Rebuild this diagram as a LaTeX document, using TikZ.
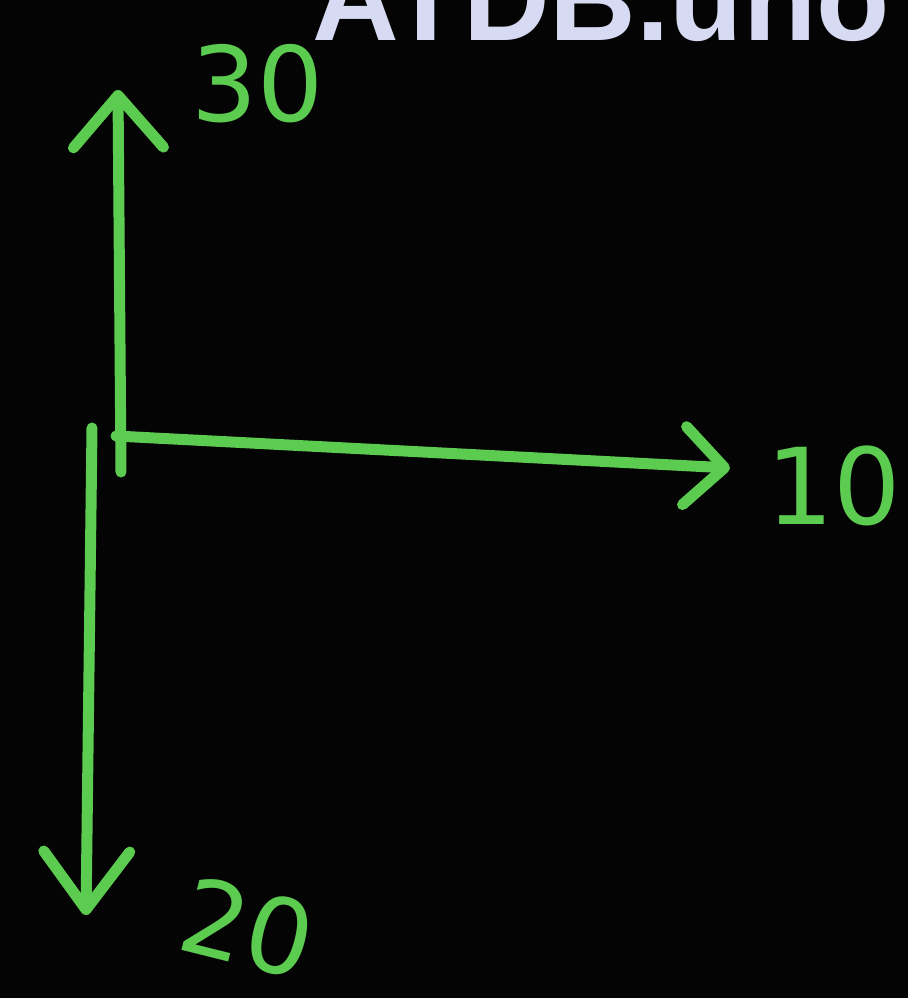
\documentclass[tikz,border=0pt]{standalone}
\usepackage{fontspec}
\usepackage{xcolor}
\newfontfamily\logofont{Liberation Sans}
\newfontfamily\chalkfont{DejaVu Sans}
\usetikzlibrary{arrows.meta,positioning}
\definecolor{ChalkGreen}{HTML}{5CCC50}
\definecolor{LogoLilac}{HTML}{D6DAF3}
\definecolor{BoardBlack}{HTML}{040404}

\begin{document}
\begin{tikzpicture}[x=1pt, y=-1pt,
    chalk/.style={line width=11pt, ChalkGreen, line cap=round, line join=round},
    barb/.style={-{Straight Barb[length=52pt, width=90pt, line cap=round, line join=round]}},
    digits/.style={ChalkGreen, inner sep=0pt, font=\chalkfont\fontsize{104}{104}\selectfont}]
    % Board
    \useasboundingbox (0,0) rectangle (908,998);
    \fill[BoardBlack] (0,0) rectangle (908,998);
    \clip (0,0) rectangle (908,998);

    % Watermark
    \node[LogoLilac, anchor=base west, inner sep=0pt, font=\logofont\bfseries\fontsize{120}{120}\selectfont] (logo) at (312,41) {ATDB.uno};

    % Corner of the three axes
    \coordinate (upfoot) at (121,472);
    \coordinate (uptip) at (118,90);
    \coordinate (rightfoot) at (116,436);
    \coordinate (righttip) at (730,468);
    \coordinate (downhead) at (92,428);
    \coordinate (downtip) at (86,915);

    % Axis pointing up - 30
    \draw[chalk, barb] (upfoot) -- (uptip);
    \node[digits] (thirty) at (258,84) {30};

    % Axis pointing right - 10
    \draw[chalk, -{Straight Barb[length=40pt, width=78pt, line cap=round, line join=round]}] (rightfoot) -- (righttip);
    \node[digits, font=\chalkfont\fontsize{106}{106}\selectfont] (ten) at (834,486) {10};

    % Axis pointing down - 20
    \draw[chalk, -{Straight Barb[length=58pt, width=86pt, line cap=round, line join=round]}] (downhead) -- (downtip);
    \node[digits, rotate=-14] (twenty) at (248,928) {20};

\end{tikzpicture}
\end{document}
